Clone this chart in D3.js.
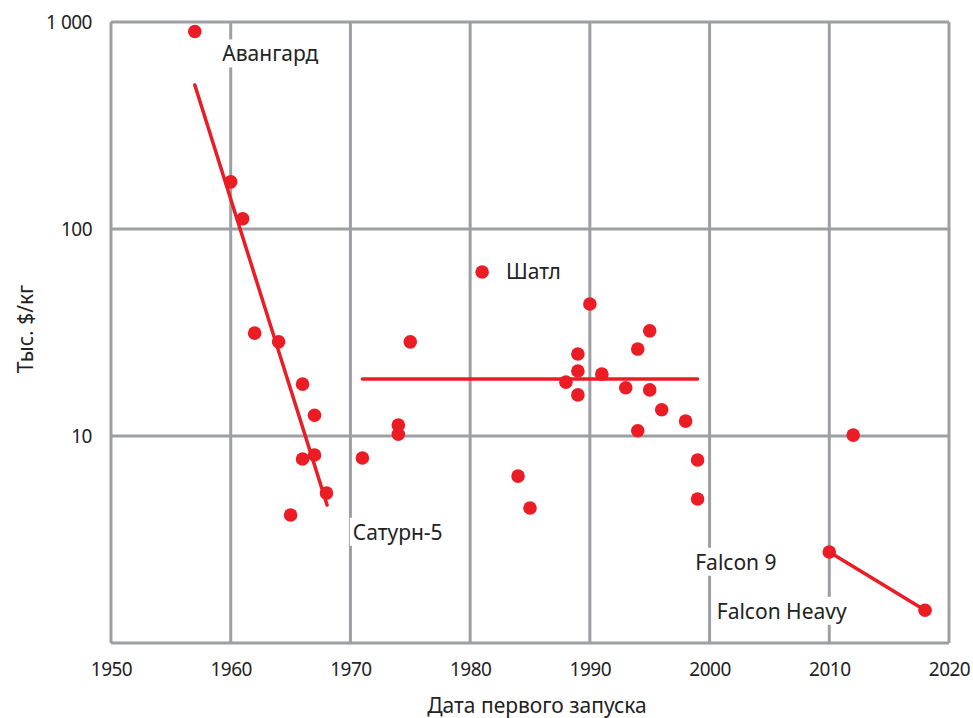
<!DOCTYPE html>
<html><head><meta charset="utf-8">
<script src="https://cdn.jsdelivr.net/npm/d3@7/dist/d3.min.js"></script>
<style>body{margin:0;background:#fff}svg text{font-family:"Noto Sans",sans-serif;fill:#222}</style>
</head><body><svg id="c" width="973" height="718"></svg>
<script>
const years = [1957,1960,1961,1962,1964,1966,1967,1966,1967,1968,1965,1971,1974,1974,1975,1981,1984,1985,1990,1989,1989,1988,1989,1991,1993,1994,1995,1995,1994,1996,1998,1999,1999,2012,2010,2018];
const costs = [900,169,112,31.4,28.5,17.8,12.6,7.74,8.1,5.3,4.15,7.83,11.3,10.2,28.5,62,6.4,4.49,43.4,24.9,20.6,18.2,15.8,19.9,17.1,26.3,32.2,16.7,10.6,13.4,11.8,7.66,4.96,10.1,2.75,1.44];
const trend1 = [[1957,496],[1968.05,4.64]];
const trend2 = [[1971,18.85],[1999,18.85]];
const trend3 = [[2010,2.75],[2018,1.44]];
const xTicks = [1950,1960,1970,1980,1990,2000,2010,2020];
const yTicks = [1,10,100,1000];
const yTickLabels = ["", "10", "100", "1 000"];
const labels = [
  {t:"Авангард", x:1959.3, y:700, anchor:"start"},
  {t:"Шатл", x:1983, y:62, anchor:"start"},
  {t:"Сатурн-5", x:1970.2, y:3.42, anchor:"start"},
  {t:"Falcon 9", x:1998.8, y:2.45, anchor:"start"},
  {t:"Falcon Heavy", x:2000.6, y:1.42, anchor:"start"}
];

const svg = d3.select("#c");
const L=111,R=949,T=22,B=643;
const x = d3.scaleLinear().domain([1950,2020]).range([L,R]);
const y = d3.scaleLog().domain([1,1000]).range([B,T]);
const grid="#9d9fa3", red="#ec1c24";

// grid
svg.append("g").selectAll("line").data(xTicks).join("line")
  .attr("x1",d=>x(d)).attr("x2",d=>x(d)).attr("y1",T).attr("y2",B)
  .attr("stroke",grid).attr("stroke-width",3);
svg.append("g").selectAll("line").data(yTicks).join("line")
  .attr("x1",L).attr("x2",R).attr("y1",d=>y(d)).attr("y2",d=>y(d))
  .attr("stroke",grid).attr("stroke-width",3);

// axes labels
const xa = d3.axisBottom(x).tickValues(xTicks).tickFormat(d3.format("d")).tickSize(0).tickPadding(20);
svg.append("g").attr("transform",`translate(0,${B})`).call(xa)
  .call(g=>g.select(".domain").remove())
  .call(g=>g.selectAll("text").attr("font-size",19).attr("fill","#222").attr("font-family","Noto Sans").attr("letter-spacing","-0.5px"));
const ya = d3.axisLeft(y).tickValues(yTicks).tickFormat((d,i)=>yTickLabels[i]).tickSize(0).tickPadding(19);
svg.append("g").attr("transform",`translate(${L},0)`).call(ya)
  .call(g=>g.select(".domain").remove())
  .call(g=>g.selectAll("text").attr("font-size",19).attr("fill","#222").attr("font-family","Noto Sans").attr("letter-spacing","-0.5px"));

svg.append("text").attr("x",537).attr("y",713).attr("text-anchor","middle").attr("font-size",21).text("Дата первого запуска");
svg.append("text").attr("transform",`translate(33,329) rotate(-90)`).attr("text-anchor","middle").attr("font-size",21).text("Тыс. $/кг");

// labels with white background
const lg = svg.append("g");
labels.forEach(l=>{
  const t = lg.append("text").attr("x",x(l.x)).attr("y",y(l.y)).attr("dy","0.35em")
    .attr("text-anchor",l.anchor).attr("font-size",21).text(l.t);
  const bb = t.node().getBBox();
  lg.insert("rect","text").attr("x",bb.x-3).attr("y",bb.y).attr("width",bb.width+6).attr("height",bb.height).attr("fill","#fff");
});

// trend lines
const line = d3.line().x(d=>x(d[0])).y(d=>y(d[1]));
[trend1,trend2,trend3].forEach(tr=>{
  svg.append("path").attr("d",line(tr)).attr("stroke",red).attr("stroke-width",3.5).attr("fill","none").attr("stroke-linecap","round");
});

// points
svg.append("g").selectAll("circle").data(years.map((d,i)=>[d,costs[i]])).join("circle")
  .attr("cx",d=>x(d[0])).attr("cy",d=>y(d[1])).attr("r",6.8).attr("fill",red);
</script></body></html>
